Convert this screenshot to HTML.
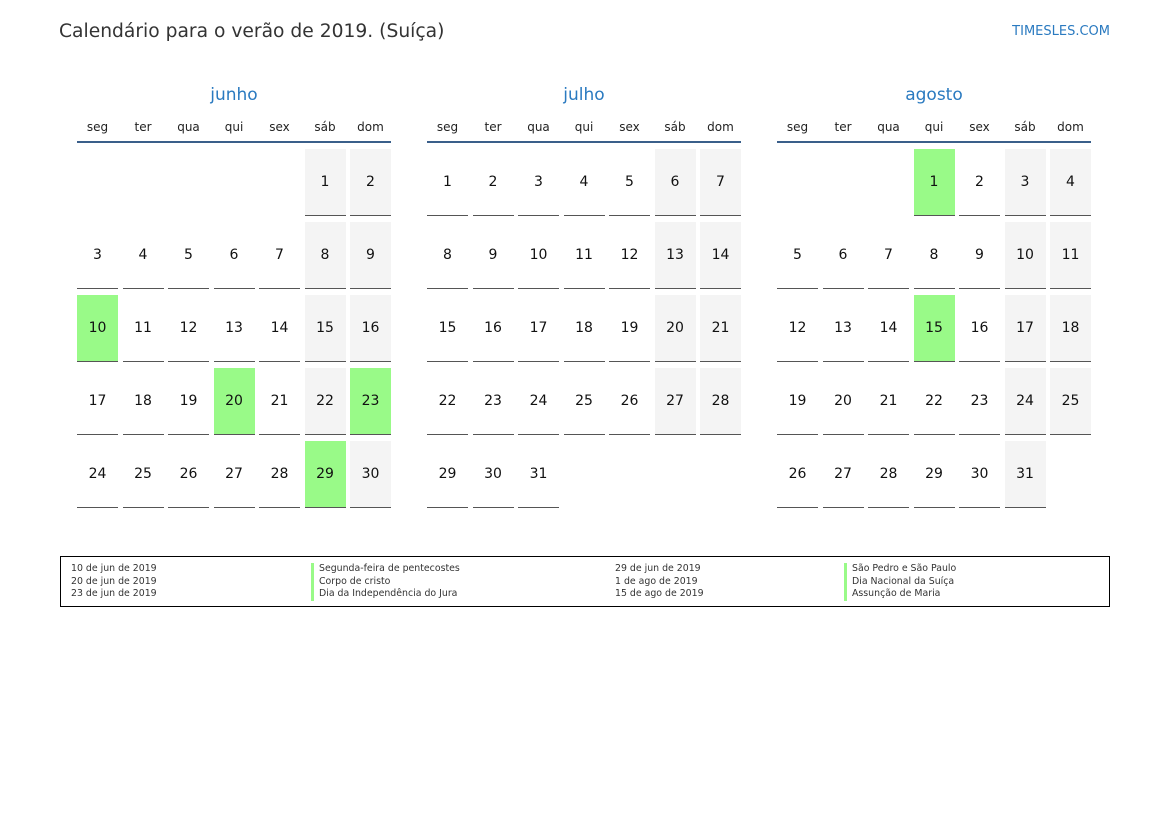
<!DOCTYPE html>
<html><head><meta charset="utf-8"><style>
body{margin:0;width:1169px;height:827px;background:#fff;font-family:"DejaVu Sans","Liberation Sans",sans-serif;position:relative;overflow:hidden}
.t{position:absolute;left:59px;top:21px;font-size:18.7px;color:#333}
.s{position:absolute;right:59px;top:24px;font-size:13px;color:#2a7ac0}
.m{position:absolute;top:84px;width:314px}
.mn{text-align:center;font-size:17px;color:#2a7ac0;height:22px;line-height:22px}
.wd{display:grid;grid-template-columns:repeat(7,41px);column-gap:4.5px;margin-top:10px;height:27px;border-bottom:2px solid #3a5f8a;box-sizing:border-box}
.wd div{text-align:center;font-size:12px;color:#222;line-height:22px}
.g{display:grid;grid-template-columns:repeat(7,41px);grid-auto-rows:67px;column-gap:4.5px;row-gap:6px;margin-top:6px}
.g div{text-align:center;line-height:66px;font-size:14px;color:#111;border-bottom:1px solid #555;box-sizing:border-box}
.g .e{border:none}
.g .w{background:#f4f4f4}
.g .h{background:#99fa88}
.lg{position:absolute;left:60px;top:556px;width:1048px;height:49px;border:1px solid #000;font-size:9.4px;color:#333}
.lg div{position:absolute;line-height:12.5px}
.b{border-left:3px solid #99fa88;padding-left:5px}
</style></head><body>
<div class="t">Calendário para o verão de 2019. (Suíça)</div>
<div class="s">TIMESLES.COM</div>

<div class="m" style="left:77px"><div class="mn">junho</div>
<div class="wd"><div>seg</div><div>ter</div><div>qua</div><div>qui</div><div>sex</div><div>sáb</div><div>dom</div></div>
<div class="g">
<div class="e"></div><div class="e"></div><div class="e"></div><div class="e"></div><div class="e"></div><div class="w">1</div><div class="w">2</div>
<div>3</div><div>4</div><div>5</div><div>6</div><div>7</div><div class="w">8</div><div class="w">9</div>
<div class="h">10</div><div>11</div><div>12</div><div>13</div><div>14</div><div class="w">15</div><div class="w">16</div>
<div>17</div><div>18</div><div>19</div><div class="h">20</div><div>21</div><div class="w">22</div><div class="h">23</div>
<div>24</div><div>25</div><div>26</div><div>27</div><div>28</div><div class="h">29</div><div class="w">30</div>
</div></div>

<div class="m" style="left:427px"><div class="mn">julho</div>
<div class="wd"><div>seg</div><div>ter</div><div>qua</div><div>qui</div><div>sex</div><div>sáb</div><div>dom</div></div>
<div class="g">
<div>1</div><div>2</div><div>3</div><div>4</div><div>5</div><div class="w">6</div><div class="w">7</div>
<div>8</div><div>9</div><div>10</div><div>11</div><div>12</div><div class="w">13</div><div class="w">14</div>
<div>15</div><div>16</div><div>17</div><div>18</div><div>19</div><div class="w">20</div><div class="w">21</div>
<div>22</div><div>23</div><div>24</div><div>25</div><div>26</div><div class="w">27</div><div class="w">28</div>
<div>29</div><div>30</div><div>31</div>
</div></div>

<div class="m" style="left:777px"><div class="mn">agosto</div>
<div class="wd"><div>seg</div><div>ter</div><div>qua</div><div>qui</div><div>sex</div><div>sáb</div><div>dom</div></div>
<div class="g">
<div class="e"></div><div class="e"></div><div class="e"></div><div class="h">1</div><div>2</div><div class="w">3</div><div class="w">4</div>
<div>5</div><div>6</div><div>7</div><div>8</div><div>9</div><div class="w">10</div><div class="w">11</div>
<div>12</div><div>13</div><div>14</div><div class="h">15</div><div>16</div><div class="w">17</div><div class="w">18</div>
<div>19</div><div>20</div><div>21</div><div>22</div><div>23</div><div class="w">24</div><div class="w">25</div>
<div>26</div><div>27</div><div>28</div><div>29</div><div>30</div><div class="w">31</div>
</div></div>

<div class="lg">
<div style="left:10px;top:6px">10 de jun de 2019<br>20 de jun de 2019<br>23 de jun de 2019</div>
<div style="left:250px;top:6px"><div class="b" style="position:static">Segunda-feira de pentecostes</div><div class="b" style="position:static">Corpo de cristo</div><div class="b" style="position:static">Dia da Independência do Jura</div></div>
<div style="left:554px;top:6px">29 de jun de 2019<br>1 de ago de 2019<br>15 de ago de 2019</div>
<div style="left:783px;top:6px"><div class="b" style="position:static">São Pedro e São Paulo</div><div class="b" style="position:static">Dia Nacional da Suíça</div><div class="b" style="position:static">Assunção de Maria</div></div>
</div>
</body></html>
